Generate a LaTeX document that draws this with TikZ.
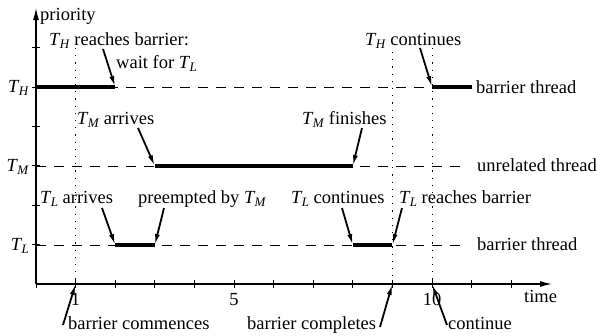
\documentclass[tikz,border=0pt]{standalone}
\usepackage{fontspec}
\setmainfont{Liberation Serif}
\usetikzlibrary{arrows.meta}
\newcommand{\Tn}[1]{\textit{T}\kern-0.04em\raisebox{-0.38ex}{\fontsize{13}{13}\selectfont\textit{#1}}}
\begin{document}
\begin{tikzpicture}[x=1pt,y=-1pt,
  txt/.style={font=\fontsize{18.5}{22}\selectfont, inner sep=0pt},
  axisline/.style={line width=1.2pt,-{Latex[length=12pt,width=6pt]}},
  tickmark/.style={line width=0.9pt},
  levelline/.style={line width=0.9pt, dash pattern=on 10pt off 8pt},
  runline/.style={line width=4pt},
  guide/.style={line width=1pt, dash pattern=on 1.2pt off 6pt},
  pointer/.style={line width=1.8pt, -{Latex[length=11pt,width=5pt]}},
]
\useasboundingbox (0,0) rectangle (597,335);

% axes
\coordinate (O) at (36,284);
\coordinate (xend) at (552,284);
\coordinate (yend) at (36,8);
\draw[axisline] (O) -- (xend);
\draw[axisline] (O) -- (yend);
\foreach \i in {0,...,12} \draw[tickmark] ({36+39.6*\i},280) -- ++(0,8);
\foreach \k in {1,...,6} \draw[tickmark] (32,{284-39.4*\k}) -- ++(8,0);

% key points
\coordinate (Hy0) at (36,87);
\coordinate (H2) at (115.2,87);
\coordinate (H10) at (432,87);
\coordinate (H11) at (471.6,87);
\coordinate (My0) at (36,166);
\coordinate (M3) at (154.8,166);
\coordinate (M8) at (352.8,166);
\coordinate (Mend) at (463,166);
\coordinate (Ly0) at (36,245);
\coordinate (L2) at (115.2,245);
\coordinate (L3) at (154.8,245);
\coordinate (L8) at (352.8,245);
\coordinate (L9) at (392.4,245);
\coordinate (Lend) at (463,245);
\coordinate (A1) at (75.6,284);
\coordinate (A9) at (392.4,284);
\coordinate (A10) at (432,284);

% guides
\draw[guide] (75.6,48) -- (A1);
\draw[guide] (392.4,52) -- (A9);
\draw[guide] (432,48) -- (A10);

% level lines
\draw[levelline] (Hy0) -- (H10);
\draw[levelline] (My0) -- (Mend);
\draw[levelline] (Ly0) -- (Lend);

% runs
\draw[runline] (Hy0) -- (H2);
\draw[runline] (H10) -- (H11);
\draw[runline] (M3) -- (M8);
\draw[runline] (L2) -- (L3);
\draw[runline] (L8) -- (L9);

% axis labels
\node[txt,anchor=base west] (prio) at (40,20) {priority};
\node[txt,anchor=base west] (time) at (524,302) {time};
\node[txt,anchor=base] (n1) at (75.6,305) {1};
\node[txt,anchor=base] (n5) at (234,305) {5};
\node[txt,anchor=base] (n10) at (432,305) {10};
\node[txt,anchor=base east] (yH) at (29,92) {\Tn{H}};
\node[txt,anchor=base east] (yM) at (29,171) {\Tn{M}};
\node[txt,anchor=base east] (yL) at (29,250) {\Tn{L}};

% thread labels
\node[txt,anchor=base west] (bH) at (476,93) {barrier thread};
\node[txt,anchor=base west] (bM) at (477,171) {unrelated thread};
\node[txt,anchor=base west] (bL) at (477,250) {barrier thread};

% annotations
\node[txt,anchor=base west] (t1) at (49,45) {\Tn{H} reaches barrier:};
\node[txt,anchor=base west] (t1b) at (116,68) {wait for \Tn{L}};
\node[txt,anchor=base west] (t2) at (365,45) {\Tn{H} continues};
\node[txt,anchor=base west] (t3) at (77,124) {\Tn{M} arrives};
\node[txt,anchor=base west] (t4) at (302,124) {\Tn{M} finishes};
\node[txt,anchor=base west] (t5) at (40,203) {\Tn{L} arrives};
\node[txt,anchor=base west] (t6) at (138,203) {preempted by \Tn{M}};
\node[txt,anchor=base west] (t7) at (291,203) {\Tn{L} continues};
\node[txt,anchor=base west] (t8) at (399,203) {\Tn{L} reaches barrier};
\node[txt,anchor=base west] (t9) at (68,329) {barrier commences};
\node[txt,anchor=base west] (t10) at (247,329) {barrier completes};
\node[txt,anchor=base west] (t11) at (448,329) {continue};

% pointer starts
\coordinate (p1) at (103,49);
\coordinate (p2) at (420,48);
\coordinate (p3) at (138,128);
\coordinate (p4) at (362,128);
\coordinate (p5) at (102,208);
\coordinate (p6) at (164,208);
\coordinate (p7) at (342,208);
\coordinate (p8) at (402,208);
\coordinate (p9) at (63,325);
\coordinate (p10) at (380,327);
\coordinate (p11) at (447,325);

\draw[pointer] (p1) -- (H2);
\draw[pointer] (p2) -- (H10);
\draw[pointer] (p3) -- (M3);
\draw[pointer] (p4) -- (M8);
\draw[pointer] (p5) -- (L2);
\draw[pointer] (p6) -- (L3);
\draw[pointer] (p7) -- (L8);
\draw[pointer] (p8) -- (L9);
\draw[pointer] (p9) -- (A1);
\draw[pointer] (p10) -- (A9);
\draw[pointer] (p11) -- (A10);
\end{tikzpicture}
\end{document}
